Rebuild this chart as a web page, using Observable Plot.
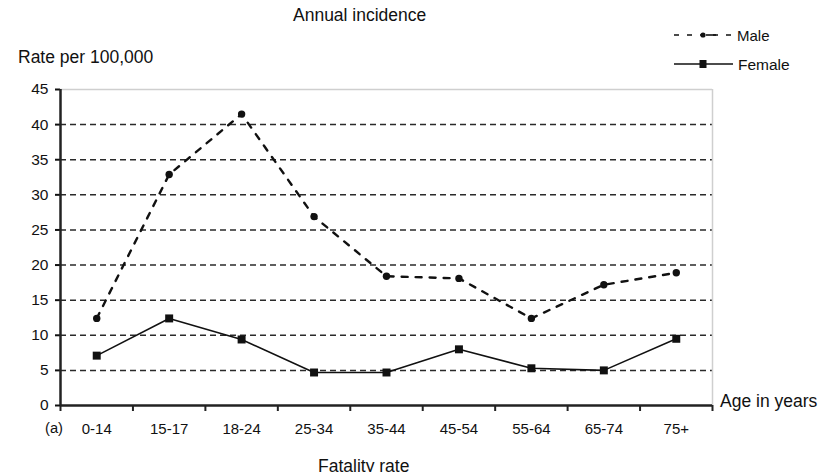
<!DOCTYPE html>
<html>
<head>
<meta charset="utf-8">
<script src="https://cdn.jsdelivr.net/npm/d3@7"></script>
<script src="https://cdn.jsdelivr.net/npm/@observablehq/plot@0.6"></script>
<style>
  html, body { margin: 0; padding: 0; background: #fff; }
  #wrap { position: relative; width: 825px; height: 472px; overflow: hidden; font-family: "Liberation Sans", Arial, sans-serif; color: #111; }
  .lbl { position: absolute; font-size: 17.5px; white-space: nowrap; line-height: 1; }
  #chart { position: absolute; left: 0; top: 0; }
</style>
</head>
<body>
<div id="wrap">
  <div id="chart"></div>
  <div class="lbl" style="left:293px;top:7px;">Annual incidence</div>
  <div class="lbl" style="left:18px;top:49px;">Rate per 100,000</div>
  <div class="lbl" style="left:720px;top:393px;">Age in years</div>
  <div class="lbl" style="left:45px;top:421px;font-size:14.7px;">(a)</div>
  <div class="lbl" style="left:318px;top:458px;">Fatality rate</div>
  <svg style="position:absolute;left:670px;top:26px;" width="70" height="50">
    <line x1="4" y1="9" x2="65" y2="9" stroke="#111" stroke-width="1.6" stroke-dasharray="5,8"/>
    <line x1="36" y1="9" x2="46" y2="9" stroke="#111" stroke-width="1.6"/>
    <circle cx="33" cy="9" r="2.6" fill="#111"/>
    <line x1="4" y1="38" x2="63" y2="38" stroke="#111" stroke-width="1.5"/>
    <rect x="29.5" y="34" width="7" height="8" fill="#111"/>
  </svg>
  <div class="lbl" style="left:737px;top:28px;font-size:15px;">Male</div>
  <div class="lbl" style="left:738px;top:57px;font-size:15.5px;">Female</div>
</div>
<script>
const categories = ["0-14", "15-17", "18-24", "25-34", "35-44", "45-54", "55-64", "65-74", "75+"];
const male =   [12.4, 32.9, 41.5, 26.9, 18.4, 18.1, 12.4, 17.2, 18.9];
const female = [7.1, 12.4, 9.4, 4.7, 4.7, 8.0, 5.3, 5.0, 9.5];
const yTicks = [0, 5, 10, 15, 20, 25, 30, 35, 40, 45];
const gridLines = [5, 10, 15, 20, 25, 30, 35, 40];

const maleData = categories.map((c, i) => ({pos: i + 0.5, cat: c, value: male[i]}));
const femaleData = categories.map((c, i) => ({pos: i + 0.5, cat: c, value: female[i]}));
const boundaries = d3.range(0, categories.length + 1);
const centers = categories.map((c, i) => i + 0.5);

const chart = Plot.plot({
  width: 825,
  height: 472,
  marginLeft: 60,
  marginRight: 113,
  marginTop: 89,
  marginBottom: 67,
  style: {fontFamily: "'Liberation Sans', Arial, sans-serif", fontSize: "15px", color: "#111", background: "transparent"},
  x: {type: "linear", domain: [0, categories.length], axis: null},
  y: {domain: [0, 45], axis: null},
  marks: [
    Plot.ruleY(gridLines, {stroke: "#2a2a2a", strokeWidth: 1.5, strokeDasharray: "6,4"}),
    Plot.ruleY([45], {stroke: "#cfcfcf", strokeWidth: 1.5}),
    Plot.ruleX([categories.length], {y1: 0, y2: 45, stroke: "#cfcfcf", strokeWidth: 1.5}),
    Plot.axisX({ticks: boundaries, tickFormat: () => "", tickSize: 6, strokeWidth: 2, stroke: "#222", label: null}),
    Plot.axisX({ticks: centers, tickSize: 0, tickPadding: 18, fontSize: 15, tickFormat: d => categories[Math.floor(d)], label: null}),
    Plot.axisY({ticks: yTicks, tickSize: 5, tickPadding: 7, fontSize: 15.5, strokeWidth: 2, label: null}),
    Plot.ruleY([0], {stroke: "#222", strokeWidth: 2.5}),
    Plot.ruleX([0], {y1: 0, y2: 45, stroke: "#222", strokeWidth: 2.5}),
    Plot.line(maleData, {x: "pos", y: "value", stroke: "#111", strokeWidth: 2.4, strokeDasharray: "6,8"}),
    Plot.dot(maleData, {x: "pos", y: "value", r: 3.7, fill: "#111", stroke: "none"}),
    Plot.line(femaleData, {x: "pos", y: "value", stroke: "#111", strokeWidth: 1.6}),
    Plot.dot(femaleData, {x: "pos", y: "value", symbol: "square", r: 4.5, fill: "#111", stroke: "none"})
  ]
});
document.getElementById("chart").appendChild(chart);
</script>
</body>
</html>
